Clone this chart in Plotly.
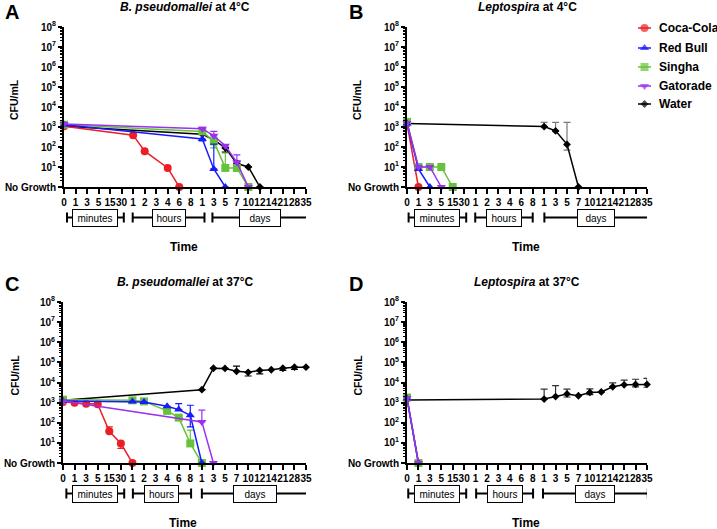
import plotly.graph_objects as go

W, H = 717, 529
FONT = "Arial, 'Liberation Sans', sans-serif"

# ---------------- shared axis labels ----------------
X_LABELS = ["0", "1", "3", "5", "15", "30",
            "1", "2", "3", "4", "6", "8",
            "1", "3", "5", "7", "10", "12", "14", "21", "28", "35"]
Y_TICKVALS = [1, 10, 100, 1e3, 1e4, 1e5, 1e6, 1e7, 1e8]
Y_TICKTEXT = ["No Growth"] + ["10<sup>%d</sup>" % k for k in range(1, 9)]
GROUPS = ["minutes", "hours", "days"]

SERIES = ["Coca-Cola", "Red Bull", "Singha", "Gatorade", "Water"]
COLORS = {"Coca-Cola": "#EE1C25", "Red Bull": "#1A1AFF", "Singha": "#66C23A",
          "Gatorade": "#9B30F0", "Water": "#000000"}
SYMBOLS = {"Coca-Cola": "circle", "Red Bull": "triangle-up", "Singha": "square",
           "Gatorade": "triangle-down", "Water": "diamond"}

# ---------------- data (time index into X_LABELS, CFU/mL; "No Growth" = 1) ----------------
# Panel A: B. pseudomallei at 4°C
A_COKE_T = [0, 6, 7, 9, 10]
A_COKE_Y = [1100, 390, 62, 9, 1]
A_REDBULL_T = [0, 12, 13, 14]
A_REDBULL_Y = [1300, 250, 8, 1]
A_REDBULL_HI = [None, None, 140, None]
A_REDBULL_LO = [None, 200, None, None]
A_SINGHA_T = [0, 12, 13, 14, 15, 16]
A_SINGHA_Y = [1300, 600, 190, 9, 9, 1]
A_SINGHA_HI = [None, None, None, 50, None, None]
A_SINGHA_LO = [None, None, 90, None, 6, None]
A_GATORADE_T = [0, 12, 13, 14, 15, 16]
A_GATORADE_Y = [1400, 820, 360, 115, 17, 1]
A_GATORADE_HI = [None, 950, 600, None, 40, None]
A_WATER_T = [0, 12, 13, 14, 15, 16, 17]
A_WATER_Y = [1100, 440, 225, 90, 15, 10, 1]
A_WATER_HI = [None, None, None, None, 20, None, None]
A_WATER_LO = [None, None, 170, 55, 9, None, None]

# Panel B: Leptospira at 4°C
B_COKE_T = [0, 1]
B_COKE_Y = [1500, 1]
B_REDBULL_T = [0, 1, 2]
B_REDBULL_Y = [1500, 8, 1]
B_SINGHA_T = [0, 1, 2, 3, 4]
B_SINGHA_Y = [1800, 10, 10, 10, 1]
B_GATORADE_T = [0, 1, 2, 3]
B_GATORADE_Y = [1600, 10, 10, 1]
B_WATER_T = [0, 12, 13, 14, 15]
B_WATER_Y = [1500, 1050, 640, 135, 1]
B_WATER_HI = [None, 1700, 1700, 1700, None]
B_WATER_LO = [None, None, None, 70, None]

# Panel C: B. pseudomallei at 37°C
C_COKE_T = [0, 1, 2, 3, 4, 5, 6]
C_COKE_Y = [1070, 1000, 890, 830, 38, 9.4, 1]
C_COKE_HI = [None, None, None, None, 63, None, None]
C_COKE_LO = [None, None, None, None, None, 5.3, None]
C_REDBULL_T = [0, 6, 7, 9, 10, 11, 12]
C_REDBULL_Y = [1200, 1150, 1070, 660, 450, 235, 1]
C_REDBULL_HI = [None, None, None, None, 900, 740, None]
C_REDBULL_LO = [None, None, None, None, None, 63, None]
C_SINGHA_T = [0, 6, 7, 9, 10, 11, 12]
C_SINGHA_Y = [1400, 1300, 1150, 390, 180, 9.4, 1]
C_SINGHA_HI = [None, None, None, None, None, 43, None]
C_GATORADE_T = [0, 12, 13]
C_GATORADE_Y = [1200, 110, 1]
C_GATORADE_HI = [None, 420, None]
C_WATER_T = [0, 12, 13, 14, 15, 16, 17, 18, 19, 20, 21]
C_WATER_Y = [1300, 4400, 51000, 50000, 36000, 32000, 40000, 43000, 51000, 58000, 58000]
C_WATER_HI = [None, None, None, None, 65000, None, None, None, None, None, None]
C_WATER_LO = [None, None, None, None, None, 21000, 27000, None, 40000, 45000, None]

# Panel D: Leptospira at 37°C
D_COKE_T = [0, 1]
D_COKE_Y = [1600, 1]
D_REDBULL_T = [0, 1]
D_REDBULL_Y = [1600, 1]
D_SINGHA_T = [0, 1]
D_SINGHA_Y = [1800, 1]
D_GATORADE_T = [0, 1]
D_GATORADE_Y = [1700, 1]
D_WATER_T = [0, 12, 13, 14, 15, 16, 17, 18, 19, 20, 21]
D_WATER_Y = [1350, 1500, 2000, 2700, 2200, 3200, 3400, 6100, 7700, 8000, 8000]
D_WATER_HI = [None, 4700, 7000, 4700, None, 4800, None, 9500, 13000, 14500, 16000]
D_WATER_LO = [None, None, None, 1900, None, 2500, None, None, None, 6000, 5800]

PANELS = [
    dict(letter="A", title="<b><i>B. pseudomallei</i> at 4°C</b>",
         series={"Coca-Cola": (A_COKE_T, A_COKE_Y, None, None),
                 "Red Bull": (A_REDBULL_T, A_REDBULL_Y, A_REDBULL_HI, A_REDBULL_LO),
                 "Singha": (A_SINGHA_T, A_SINGHA_Y, A_SINGHA_HI, A_SINGHA_LO),
                 "Gatorade": (A_GATORADE_T, A_GATORADE_Y, A_GATORADE_HI, None),
                 "Water": (A_WATER_T, A_WATER_Y, A_WATER_HI, A_WATER_LO)}),
    dict(letter="B", title="<b><i>Leptospira</i> at 4°C</b>",
         series={"Coca-Cola": (B_COKE_T, B_COKE_Y, None, None),
                 "Red Bull": (B_REDBULL_T, B_REDBULL_Y, None, None),
                 "Singha": (B_SINGHA_T, B_SINGHA_Y, None, None),
                 "Gatorade": (B_GATORADE_T, B_GATORADE_Y, None, None),
                 "Water": (B_WATER_T, B_WATER_Y, B_WATER_HI, B_WATER_LO)}),
    dict(letter="C", title="<b><i>B. pseudomallei</i> at 37°C</b>",
         series={"Coca-Cola": (C_COKE_T, C_COKE_Y, C_COKE_HI, C_COKE_LO),
                 "Red Bull": (C_REDBULL_T, C_REDBULL_Y, C_REDBULL_HI, C_REDBULL_LO),
                 "Singha": (C_SINGHA_T, C_SINGHA_Y, C_SINGHA_HI, None),
                 "Gatorade": (C_GATORADE_T, C_GATORADE_Y, C_GATORADE_HI, None),
                 "Water": (C_WATER_T, C_WATER_Y, C_WATER_HI, C_WATER_LO)}),
    dict(letter="D", title="<b><i>Leptospira</i> at 37°C</b>",
         series={"Coca-Cola": (D_COKE_T, D_COKE_Y, None, None),
                 "Red Bull": (D_REDBULL_T, D_REDBULL_Y, None, None),
                 "Singha": (D_SINGHA_T, D_SINGHA_Y, None, None),
                 "Gatorade": (D_GATORADE_T, D_GATORADE_Y, None, None),
                 "Water": (D_WATER_T, D_WATER_Y, D_WATER_HI, D_WATER_LO)}),
]

# ---------------- layout geometry (pixels) ----------------
PLOT_BOXES = [  # left, right, top, bottom
    (64, 306, 27, 187),
    (407, 647, 27, 187),
    (63, 306, 302, 463),
    (407, 647, 302, 463),
]
# bracket spans in axis units, for minutes / hours / days
BRACKETS = [
    [(0.26, 5.19), (5.96, 12.19), (12.88, 21.17)],
    [(0.14, 5.18), (5.97, 11.0), (12.02, 21.1)],
    [(0.29, 5.29), (6.04, 11.07), (12.0, 21.1)],
    [(0.11, 5.18), (6.05, 11.03), (11.9, 21.07)],
]
BOX_W = [[44, 32, 40], [44, 34, 36], [44, 33, 42], [44, 34, 38]]
LEGEND_ROWS = [28, 48, 67, 86, 104]   # pixel rows of the legend entries


def px_x(p):
    return p / W


def px_y(p):
    return 1 - p / H


DRAW_ORDER = ["Water", "Coca-Cola", "Singha", "Red Bull", "Gatorade"]

fig = go.Figure()
layout = dict(
    width=W, height=H, margin=dict(l=0, r=0, t=0, b=0, autoexpand=False),
    paper_bgcolor="white", plot_bgcolor="rgba(0,0,0,0)",
    font=dict(family=FONT, color="black"),
    showlegend=False,
)
annotations = []
shapes = []

minor_vals = [m * 10 ** k for k in range(8) for m in range(2, 10)]

for pi, panel in enumerate(PANELS):
    n = pi + 1
    xa = "x" if n == 1 else "x%d" % n
    ya = "y" if n == 1 else "y%d" % n
    l, r, t, b = PLOT_BOXES[pi]
    layout["xaxis" if n == 1 else "xaxis%d" % n] = dict(
        domain=[px_x(l), px_x(r)], anchor=ya, range=[0, 21], automargin=False,
        tickmode="array", tickvals=list(range(len(X_LABELS))), ticktext=X_LABELS,
        tickangle=0, showline=True, linewidth=2, linecolor="black",
        ticks="outside", ticklen=5, tickwidth=1.5, tickcolor="black",
        tickfont=dict(family=FONT, size=10, color="black", weight="bold"),
        showgrid=False, zeroline=False, fixedrange=True,
    )
    layout["yaxis" if n == 1 else "yaxis%d" % n] = dict(
        domain=[px_y(b), px_y(t)], anchor=xa, type="log", range=[0, 8], automargin=False,
        tickmode="array", tickvals=Y_TICKVALS, ticktext=Y_TICKTEXT,
        showline=True, linewidth=2, linecolor="black",
        ticks="outside", ticklen=4, tickwidth=1.5, tickcolor="black",
        tickfont=dict(family=FONT, size=10, color="black", weight="bold"),
        minor=dict(tickmode="array", tickvals=minor_vals, ticks="outside",
                   ticklen=2, tickwidth=1, tickcolor="black", showgrid=False),
        showgrid=False, zeroline=False, fixedrange=True,
    )

    for name in DRAW_ORDER:
        tt, yy, hi, lo = panel["series"][name]
        col = COLORS[name]
        err = None
        if hi is not None or lo is not None:
            up, dn = [], []
            for i, v in enumerate(yy):
                h = hi[i] if hi is not None else None
                w = lo[i] if lo is not None else None
                if h is None and w is None:
                    up.append(None)
                    dn.append(None)
                else:
                    up.append((h - v) if h is not None else 0)
                    dn.append((v - w) if w is not None else 0)
            ecol = col
            if name == "Water" and n in (2, 4):
                ecol = "#7a7a7a" if n == 2 else "#333333"
            err = dict(type="data", symmetric=False, array=up, arrayminus=dn,
                       color=ecol, thickness=1.2, width=3.5, visible=True)
        fig.add_trace(go.Scatter(
            x=tt, y=yy, mode="lines+markers", name=name,
            line=dict(color=col, width=1.5),
            marker=dict(symbol=SYMBOLS[name], color=col,
                        size=6 if name == "Water" else 8,
                        line=dict(width=0)),
            error_y=err, cliponaxis=False,
            xaxis=xa, yaxis=ya,
        ))

    # panel letter
    lx = 3 if n in (1, 3) else 347
    ly = 12 if n in (1, 2) else 284
    annotations.append(dict(text="<b>%s</b>" % panel["letter"], x=px_x(lx), y=px_y(ly),
                            xref="paper", yref="paper", xanchor="left", yanchor="middle",
                            showarrow=False, font=dict(family=FONT, size=20, color="black")))
    # title
    tx = 185 if n in (1, 3) else 527
    annotations.append(dict(text=panel["title"], x=px_x(tx),
                            y=px_y(t - 20), xref="paper", yref="paper",
                            xanchor="center", yanchor="middle", showarrow=False,
                            font=dict(family=FONT, size=12, color="black")))
    # y title
    cx = 14 if n in (1, 3) else 357
    annotations.append(dict(text="<b>CFU/mL</b>", x=px_x(cx), y=px_y((t + b) / 2 - 7),
                            xref="paper", yref="paper", xanchor="center", yanchor="middle",
                            textangle=-90, showarrow=False,
                            font=dict(family=FONT, size=10.5, color="black")))
    # x title
    annotations.append(dict(text="<b>Time</b>", x=px_x((l + r) / 2 - 1), y=px_y(b + 60),
                            xref="paper", yref="paper", xanchor="center", yanchor="middle",
                            showarrow=False, font=dict(family=FONT, size=12, color="black")))
    # group brackets
    yb = b + 30.5
    for gi, (g0, g1) in enumerate(BRACKETS[pi]):
        shapes.append(dict(type="line", xref=xa, yref="paper", x0=g0, x1=g1,
                           y0=px_y(yb), y1=px_y(yb), line=dict(color="black", width=2)))
        for gx in (g0, g1):
            shapes.append(dict(type="line", xref=xa, yref="paper", x0=gx, x1=gx,
                               y0=px_y(yb - 5), y1=px_y(yb + 5),
                               line=dict(color="black", width=2)))
        annotations.append(dict(text=GROUPS[gi], x=(g0 + g1) / 2, y=px_y(yb),
                                xref=xa, yref="paper", xanchor="center", yanchor="middle",
                                showarrow=False, width=BOX_W[pi][gi], height=16,
                                bgcolor="white", bordercolor="black", borderwidth=1,
                                borderpad=0,
                                font=dict(family=FONT, size=10, color="black")))

# ---------------- legend (drawn on an overlay axis measured in pixels) ----------------
layout["xaxis5"] = dict(domain=[0, 1], anchor="y5", range=[0, W], visible=False,
                        fixedrange=True, automargin=False)
layout["yaxis5"] = dict(domain=[0, 1], anchor="x5", range=[H, 0], visible=False,
                        fixedrange=True, automargin=False)
for name, row in zip(SERIES, LEGEND_ROWS):
    col = COLORS[name]
    fig.add_trace(go.Scatter(
        x=[638, 644.5, 651], y=[row, row, row], mode="lines+markers",
        line=dict(color=col, width=1.5),
        marker=dict(symbol=SYMBOLS[name], color=col,
                    size=[0, 6 if name == "Water" else 8, 0], line=dict(width=0)),
        xaxis="x5", yaxis="y5", hoverinfo="skip", cliponaxis=False,
    ))
    annotations.append(dict(text="<b>%s</b>" % name, x=px_x(657), y=px_y(row),
                            xref="paper", yref="paper", xanchor="left", yanchor="middle",
                            showarrow=False, font=dict(family=FONT, size=12, color="black")))

layout["annotations"] = annotations
layout["shapes"] = shapes
fig.update_layout(**layout)
fig.write_html("out.html", config={"displayModeBar": False},
               post_script="document.body.style.margin='0px';"
                           "document.body.style.overflow='hidden';")
